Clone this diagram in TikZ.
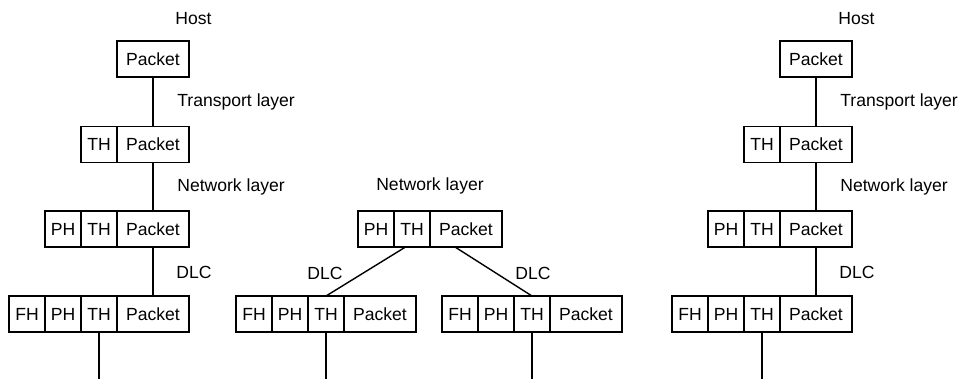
\documentclass[tikz,border=0pt]{standalone}
\usepackage{fontspec}
\setsansfont{Liberation Sans}
\usetikzlibrary{positioning}

\tikzset{
  cell/.style={draw, line width=0.8pt, inner sep=0pt, outer sep=0pt, minimum height=0.72cm, font=\sffamily\fontsize{10}{12}\selectfont},
  hdr/.style={cell, minimum width=0.72cm},
  pkt/.style={cell, minimum width=1.44cm},
  lbl/.style={inner sep=0pt, font=\sffamily\fontsize{10}{12}\selectfont},
  link/.style={line width=0.8pt}
}

\begin{document}
\begin{tikzpicture}[x=0.02cm, y=-0.02cm]

        \useasboundingbox (0,0) rectangle (960,379);
        \coordinate (base) at (0,379); % lower edge of the picture

        % host stacks, left and right
        \foreach \s/\dx in {a/0, c/663} {
            \node[pkt] (\s1p) at (153+\dx, 59) {Packet};

            \node[pkt] (\s2p) at (153+\dx, 144.5) {Packet};
            \node[hdr, left=0pt of \s2p] (\s2t) {TH};

            \node[pkt] (\s3p) at (153+\dx, 229) {Packet};
            \node[hdr, left=0pt of \s3p] (\s3t) {TH};
            \node[hdr, left=0pt of \s3t] (\s3h) {PH};

            \node[pkt] (\s4p) at (153+\dx, 314) {Packet};
            \node[hdr, left=0pt of \s4p] (\s4t) {TH};
            \node[hdr, left=0pt of \s4t] (\s4h) {PH};
            \node[hdr, left=0pt of \s4h] (\s4f) {FH};

            \node[lbl, anchor=west] (\s host) at (175+\dx, 19) {Host};
            \node[lbl, anchor=west] (\s tl) at (177+\dx, 102) {Transport layer};
            \node[lbl, anchor=west] (\s nl) at (177+\dx, 187) {Network layer};
            \node[lbl, anchor=west] (\s dlc) at (176+\dx, 272) {DLC};

            \coordinate (\s end) at (\s4t.south |- base);

            \draw[link] (\s1p) -- (\s2p);
            \draw[link] (\s2p) -- (\s3p);
            \draw[link] (\s3p) -- (\s4p);
            \draw[link] (\s4t) -- (\s end);
        }

        % node in the middle
        \node[pkt] (m3p) at (466, 229) {Packet};
        \node[hdr, left=0pt of m3p] (m3t) {TH};
        \node[hdr, left=0pt of m3t] (m3h) {PH};

        \node[pkt] (l4p) at (380, 314) {Packet};
        \node[hdr, left=0pt of l4p] (l4t) {TH};
        \node[hdr, left=0pt of l4t] (l4h) {PH};
        \node[hdr, left=0pt of l4h] (l4f) {FH};

        \node[pkt] (r4p) at (586, 314) {Packet};
        \node[hdr, left=0pt of r4p] (r4t) {TH};
        \node[hdr, left=0pt of r4t] (r4h) {PH};
        \node[hdr, left=0pt of r4h] (r4f) {FH};

        \node[lbl] (mnl) at (430, 186) {Network layer};
        \node[lbl, anchor=west] (ldlc) at (307, 273) {DLC};
        \node[lbl, anchor=west] (rdlc) at (515, 273) {DLC};

        \coordinate (lend) at (l4t.south |- base);
        \coordinate (rend) at (r4t.south |- base);

        \draw[link] ([xshift=-0.13cm]m3t.south) -- (l4t.north); % to the left
        \draw[link] ([xshift=-0.22cm]m3p.south) -- (r4t.north); % to the right
        \draw[link] (l4t) -- (lend);
        \draw[link] (r4t) -- (rend);

    \end{tikzpicture}
\end{document}
